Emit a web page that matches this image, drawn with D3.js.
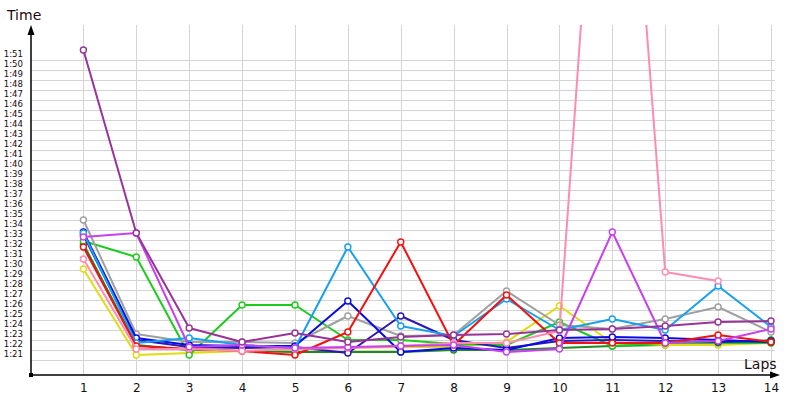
<!DOCTYPE html>
<html><head><meta charset="utf-8">
<script src="https://cdn.jsdelivr.net/npm/d3@7"></script>
<style>
html,body{margin:0;padding:0;background:#fff;}
svg{display:block;font-family:"DejaVu Sans",sans-serif;}
</style></head>
<body>
<svg id="chart" width="800" height="400"></svg>
<script>
// Laps
const laps = [1,2,3,4,5,6,7,8,9,10,11,12,13,14];
// Y tick values in seconds (1:21 .. 1:51)
const yTicks = d3.range(81, 112, 1);
// Series lap times (seconds)
const darkGreen = [92.6,82.5,82.0,81.9,81.8,81.8,81.8,82.0,82.0,82.2,82.4,82.5,82.6,83.0];
const yellow    = [90.1,81.5,81.7,81.9,82.1,82.2,82.3,82.3,82.8,86.4,82.7,82.5,82.5,82.7];
const green     = [92.9,91.3,81.5,86.5,86.5,83.0,83.0,82.6,82.5,84.8,82.4,82.7,82.7,82.7];
const gray      = [95.0,83.6,82.8,82.8,82.7,85.4,83.4,83.5,87.9,84.5,84.1,85.1,86.3,83.8];
const blueB     = [93.5,83.0,82.3,82.2,82.3,81.7,85.4,83.0,82.2,82.9,83.0,82.9,82.8,82.9];
const blueA     = [93.8,83.2,82.5,82.4,82.4,86.9,81.8,82.2,82.0,83.2,83.3,83.2,83.0,82.8];
const lightBlue = [93.7,82.7,83.2,82.5,82.2,92.3,84.4,83.4,87.1,84.0,85.1,84.0,88.4,84.3];
const red       = [92.3,82.4,82.1,81.9,81.5,83.8,92.8,82.5,87.5,82.7,82.7,82.7,83.5,82.8];
const pink      = [91.1,82.1,82.1,81.9,82.1,82.2,82.4,82.7,82.7,83.9,159.0,89.8,88.9];
const violet    = [93.3,93.7,82.3,82.5,82.2,82.3,82.4,82.5,81.8,82.1,93.8,82.7,82.9,84.1];
const purple    = [112.0,93.7,84.2,82.8,83.7,82.8,83.3,83.5,83.6,84.0,84.1,84.4,84.8,84.9];

const seriesNames  = ["darkGreen","yellow","green","gray","blueB","blueA","lightBlue","red","pink","violet","purple"];
const seriesValues = [darkGreen,yellow,green,gray,blueB,blueA,lightBlue,red,pink,violet,purple];
const seriesColors = ["#1f8a1f","#e0dc10","#1ccc1c","#a0a0a0","#2a18b0","#0a0ae6","#17a0f0","#f41010","#ff8cb0","#c840f0","#983399"];

const svg = d3.select("#chart");
const x = d3.scaleLinear().domain([0,14]).range([30.5,771]);
const y = d3.scaleLinear().domain([81,111]).range([360,60]);
const fmt = s => Math.floor(s/60) + ":" + String(Math.round(s%60)).padStart(2,"0");

// horizontal grid
const hg = svg.append("g").attr("transform","translate(31,0)")
  .call(d3.axisRight(y).tickValues(yTicks).tickSize(744).tickFormat(""));
hg.select(".domain").remove();
hg.selectAll("line").attr("stroke","#d4d4d4").attr("stroke-width",1).attr("shape-rendering","crispEdges");

// vertical grid
const vg = svg.append("g").attr("transform","translate(0,375)")
  .call(d3.axisTop(x).tickValues(laps).tickSize(350).tickFormat(""));
vg.select(".domain").remove();
vg.selectAll("line").attr("stroke","#d4d4d4").attr("stroke-width",1).attr("shape-rendering","crispEdges");

// y labels
const yl = svg.append("g").attr("transform","translate(23,0)")
  .call(d3.axisLeft(y).tickValues(yTicks).tickSize(0).tickPadding(0).tickFormat(fmt));
yl.select(".domain").remove();
yl.selectAll("text").attr("font-family","'DejaVu Sans Condensed','DejaVu Sans',sans-serif")
  .attr("font-size",9.5).attr("fill","#1a0a10").attr("dy","-0.35em");

// x labels
const xl = svg.append("g").attr("transform","translate(0,383)")
  .call(d3.axisBottom(x).tickValues(laps).tickSize(0).tickPadding(0));
xl.select(".domain").remove();
xl.selectAll("text").attr("font-family","'DejaVu Sans',sans-serif").attr("font-size",12).attr("fill","#111").attr("dy","0.72em");

// clip
svg.append("clipPath").attr("id","clip").append("rect").attr("x",31).attr("y",25).attr("width",769).attr("height",350);

const line = d3.line().x((d,i)=>x(laps[i])).y(d=>y(d));
const plot = svg.append("g").attr("clip-path","url(#clip)");
seriesValues.forEach((vals,k)=>{
  const g = plot.append("g").attr("class","series "+seriesNames[k]);
  g.append("path").datum(vals).attr("d",line).attr("fill","none")
    .attr("stroke",seriesColors[k]).attr("stroke-width",2).attr("stroke-linejoin","round");
  g.selectAll("circle").data(vals).join("circle")
    .attr("cx",(d,i)=>x(laps[i])).attr("cy",d=>y(d)).attr("r",3)
    .attr("fill","#fff").attr("stroke",seriesColors[k]).attr("stroke-width",1.4);
});

// axes
svg.append("line").attr("x1",31).attr("x2",31).attr("y1",33).attr("y2",375).attr("stroke","#000").attr("stroke-width",1.5);
svg.append("line").attr("x1",31).attr("x2",772).attr("y1",375).attr("y2",375).attr("stroke","#000").attr("stroke-width",1.5);
svg.append("path").attr("d","M31,25 L27.5,35 L34.5,35 Z").attr("fill","#000");
svg.append("path").attr("d","M780,375 L770,371.5 L770,378.5 Z").attr("fill","#000");
svg.append("rect").attr("x",29).attr("y",373).attr("width",4).attr("height",4).attr("fill","#000");

svg.append("text").attr("x",7).attr("y",20).attr("font-size",14).attr("fill","#1a0a10").text("Time");
svg.append("text").attr("x",744).attr("y",369).attr("font-size",14).attr("fill","#1a0a10").text("Laps");
</script>
</body></html>
